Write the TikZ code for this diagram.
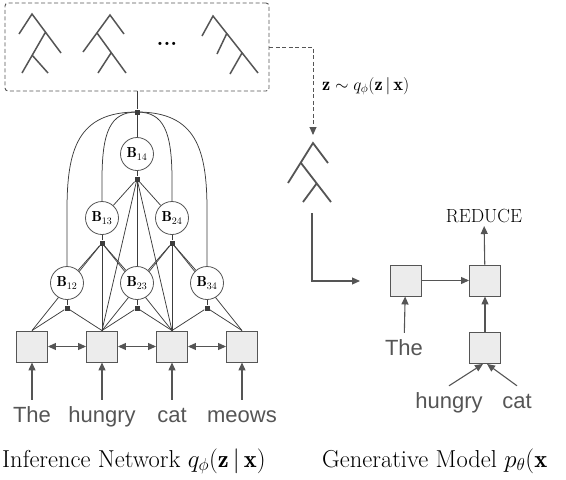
\documentclass[tikz,border=0pt]{standalone}
\usepackage{fontspec}
\usepackage{amsmath}
\usepackage{tikz}
\usetikzlibrary{arrows.meta,backgrounds}
\newfontfamily\wordfont{Liberation Sans}
\definecolor{linegray}{HTML}{555555}
\definecolor{netgray}{HTML}{3C3C3C}
\definecolor{cellfill}{HTML}{ECECEC}

\begin{document}
\begin{tikzpicture}[x=1pt, y=1pt,
            cell/.style = {draw=linegray, fill=cellfill, line width=0.9pt,
                           minimum size=31pt, inner sep=0pt},
            chart/.style = {circle, draw=linegray, fill=white, line width=0.8pt,
                            minimum size=33pt, inner sep=0pt,
                            font=\fontsize{14.5}{16}\selectfont},
            factor/.style = {fill=netgray, minimum size=5pt, inner sep=0pt},
            word/.style = {text=linegray, font=\wordfont\fontsize{22}{26}\selectfont,
                           text height=20pt, text depth=6pt, inner sep=2pt, anchor=base},
            arr/.style = {draw=linegray, line width=1.1pt, -{Triangle[length=8pt,width=7pt]}},
            dblarr/.style = {arr, {Triangle[length=8pt,width=7pt]}-{Triangle[length=8pt,width=7pt]}},
            net/.style = {draw=netgray, line width=0.75pt},
            treeline/.style = {draw=linegray, line width=1.5pt},
            title/.style = {anchor=base west, inner sep=0pt, font=\fontsize{24.5}{28}\selectfont}]

    \useasboundingbox (0,0) rectangle (566,-480);

    % sampled trees
    \node (samples) [draw=linegray, dash pattern=on 4pt off 2.5pt, line width=0.9pt,
                     rounded corners=3pt, minimum width=264pt, minimum height=88pt] at (137,-47) {};
    \draw[treeline] (19,-34) -- (32,-14) -- (61,-53) (45,-33) -- (22,-73) (32,-55) -- (48,-73);
    \draw[treeline] (83,-52) -- (110,-15) -- (124,-34) (97,-33) -- (126,-73) (111,-53) -- (98,-73);
    \node (dots) at (167,-44) {\fontsize{22}{24}\selectfont\textbf{...}};
    \draw[treeline] (202,-36) -- (213,-16) -- (258,-73) (227,-33) -- (217,-54) (242,-53) -- (230,-74);

    \coordinate (pick) at (313,-135);
    \coordinate (treebot) at (312,-213);
    \coordinate (feed) at (360,-281);
    \draw[arr, line width=0.9pt, dash pattern=on 4pt off 2.5pt] (samples.east) -| (pick);
    \node (zlabel) [anchor=west, inner sep=0pt] at (322,-86)
        {\fontsize{18.5}{20}\selectfont $\mathbf{z}\sim q_\phi(\mathbf{z}\,|\,\mathbf{x})$};
    \draw[treeline, line width=1.8pt] (288,-183) -- (313,-143) -- (328,-163)
        (301,-163) -- (331,-202) (317,-183) -- (303,-202);
    \draw[arr] (treebot) |- (feed);

    % generative model
    \node[cell] (g1) at (405.5,-280.5) {};
    \node[cell] (g2) at (485,-280.5) {};
    \node[cell] (g3) at (485,-348) {};
    \node (reduce) [inner sep=3pt, font=\fontsize{19}{22}\selectfont] at (484,-216) {REDUCE};
    \node[word] (gthe) at (404,-355) {The};
    \node[word] (ghungry) at (449,-408) {hungry};
    \node[word] (gcat) at (517,-408) {cat};
    \draw[arr] (g1) -- (g2);
    \draw[arr] (g2) -- (reduce);
    \draw[arr] (gthe) -- (g1);
    \draw[arr] (g3) -- (g2);
    \draw[arr] (ghungry.north) -- ([xshift=-2pt]g3.south);
    \draw[arr] (gcat.north) -- ([xshift=2pt]g3.south);

    % inference network
    \foreach \i/\x/\w in {1/32/The, 2/102/hungry, 3/172/cat, 4/242/meows} {
        \node[cell] (b\i) at (\x,-346.5) {};
        \node[word] (w\i) at (\x,-422) {\w};
        \draw[arr] (w\i) -- (b\i);
    }
    \foreach \i/\j in {1/2, 2/3, 3/4}
        \draw[dblarr] (b\i) -- (b\j);

    \node[chart] (B12) at (67,-283) {$\mathbf{B}_{12}$};
    \node[chart] (B23) at (137,-283) {$\mathbf{B}_{23}$};
    \node[chart] (B34) at (207,-283) {$\mathbf{B}_{34}$};
    \node[chart] (B13) at (102,-218) {$\mathbf{B}_{13}$};
    \node[chart] (B24) at (172,-218) {$\mathbf{B}_{24}$};
    \node[chart] (B14) at (137,-154) {$\mathbf{B}_{14}$};

    \node[factor] (f12) at (67,-308) {};
    \node[factor] (f23) at (137,-308) {};
    \node[factor] (f34) at (207,-308) {};
    \node[factor] (f13) at (102,-243) {};
    \node[factor] (f24) at (172,-243) {};
    \node[factor] (f14) at (137,-179) {};
    \node[factor] (ftop) at (137,-112) {};

    \begin{scope}[on background layer]
        \draw[net] (samples) -- (ftop) -- (B14) -- (f14);
        \foreach \t in {B12, b1.north, b2.north} \draw[net] (f12) -- (\t);
        \foreach \t in {B23, b2.north, b3.north} \draw[net] (f23) -- (\t);
        \foreach \t in {B34, b3.north, b4.north} \draw[net] (f34) -- (\t);
        \foreach \t in {B13, B12, B23, b1.north, b2.north, b3.north} \draw[net] (f13) -- (\t);
        \foreach \t in {B24, B23, B34, b2.north, b3.north, b4.north} \draw[net] (f24) -- (\t);
        \foreach \t in {B13, B23, B24, b2.north, b3.north} \draw[net] (f14) -- (\t);
        \draw[net] (ftop.center) .. controls (78,-112) and (67,-149) .. (67,-210) -- (B12);
        \draw[net] (ftop.center) .. controls (110,-112) and (102,-132) .. (102,-180) -- (B13);
        \draw[net] (ftop.center) .. controls (164,-112) and (172,-132) .. (172,-180) -- (B24);
        \draw[net] (ftop.center) .. controls (196,-112) and (207,-149) .. (207,-210) -- (B34);
    \end{scope}

    \node[title] (inftitle) at (2,-467) {Inference Network $q_\phi(\mathbf{z}\,|\,\mathbf{x})$};
    \node[title] (gentitle) at (322,-467) {Generative Model $p_\theta(\mathbf{x}$};
\end{tikzpicture}
\end{document}
